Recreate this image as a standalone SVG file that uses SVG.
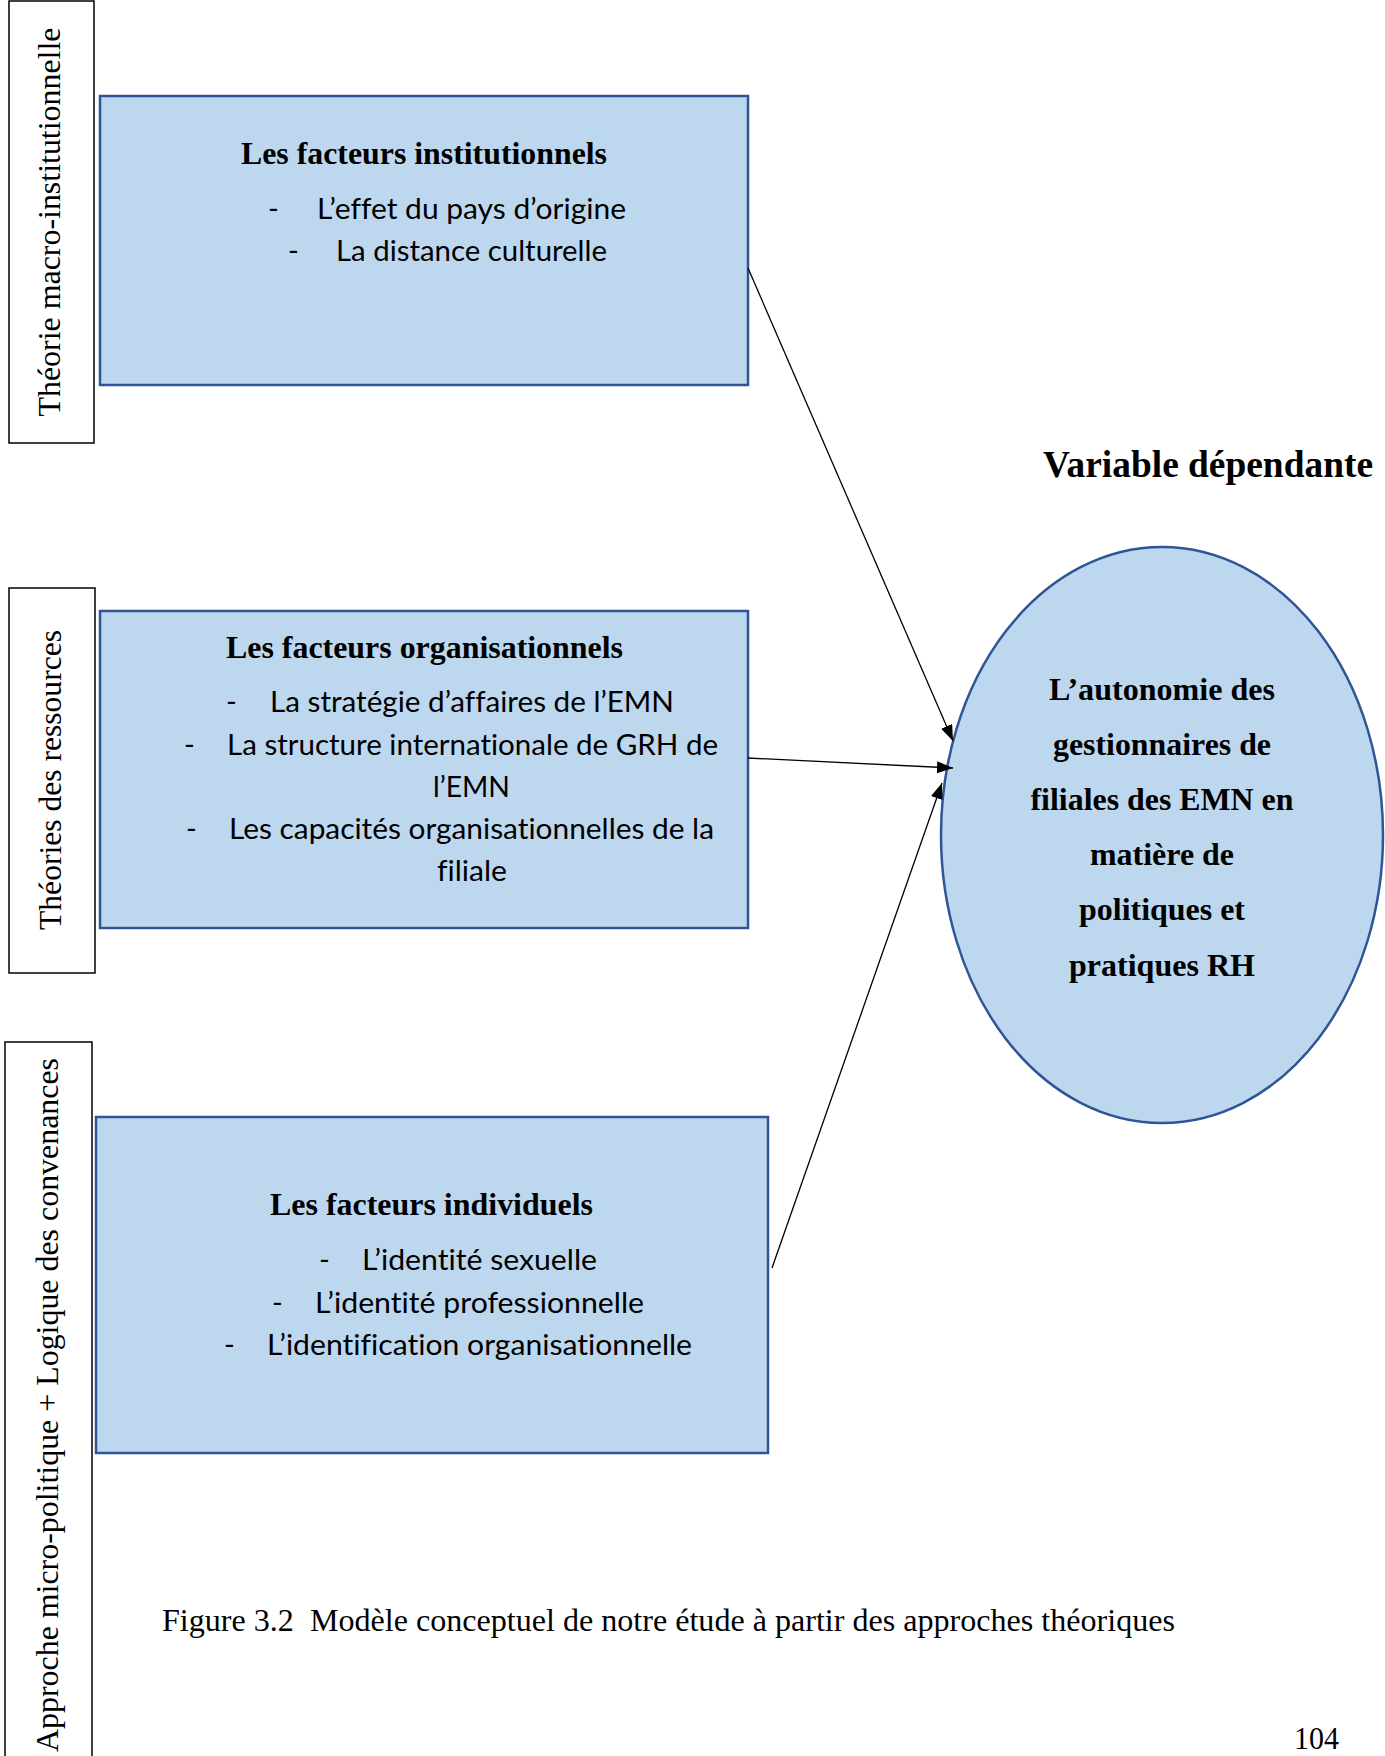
<svg xmlns="http://www.w3.org/2000/svg" width="1385" height="1756" viewBox="0 0 1385 1756">
  <defs>
    <marker id="head" markerUnits="userSpaceOnUse" markerWidth="17" markerHeight="13" refX="16" refY="6" orient="auto">
      <path d="M0,0 L16,6 L0,12 z" fill="#000"/>
    </marker>
  </defs>
  <style>
    .page { fill: #ffffff; }
    .frame { fill: none; stroke: #000; stroke-width: 1.5; }
    .box { fill: #BDD7EE; stroke: #2F5597; stroke-width: 2.5; }
    text { font-variant-ligatures: none; }
    .title { font-family: "Liberation Serif", "Times New Roman", serif; font-weight: bold; font-size: 32px; fill: #000; }
    .item { font-family: Lato, "Liberation Sans", sans-serif; font-size: 29px; fill: #000; }
    .side { font-family: "Liberation Serif", "Times New Roman", serif; font-size: 31px; fill: #000; }
    .dep { font-family: "Liberation Serif", "Times New Roman", serif; font-weight: bold; font-size: 31px; fill: #000; }
    .caption { font-family: "Liberation Serif", "Times New Roman", serif; font-size: 31px; fill: #000; white-space: pre; }
    .link { fill: none; stroke: #000; stroke-width: 1.3; marker-end: url(#head); }
  </style>

  <rect class="page" x="0" y="0" width="1385" height="1756"/>

  <!-- theory frames with vertical labels -->
  <g id="theorie-macro">
    <rect class="frame" x="9" y="1" width="85" height="442"/>
    <text class="side" transform="translate(60,222) rotate(-90)" text-anchor="middle" textLength="389" lengthAdjust="spacingAndGlyphs">Théorie macro-institutionnelle</text>
  </g>
  <g id="theories-ressources">
    <rect class="frame" x="9" y="588" width="86" height="385"/>
    <text class="side" transform="translate(61,780) rotate(-90)" text-anchor="middle" textLength="300" lengthAdjust="spacingAndGlyphs">Théories des ressources</text>
  </g>
  <g id="approche-micro">
    <rect class="frame" x="5" y="1042" width="87" height="730"/>
    <text class="side" transform="translate(58,1405) rotate(-90)" text-anchor="middle" textLength="694" lengthAdjust="spacingAndGlyphs">Approche micro-politique + Logique des convenances</text>
  </g>

  <!-- factor boxes -->
  <g id="facteurs-institutionnels">
    <rect class="box" x="100" y="96" width="648" height="289"/>
    <text class="title" x="241" y="164" textLength="366" lengthAdjust="spacingAndGlyphs">Les facteurs institutionnels</text>
    <text class="item" x="268" y="219">-</text>
    <text class="item" x="317" y="219" textLength="309" lengthAdjust="spacingAndGlyphs">L’effet du pays d’origine</text>
    <text class="item" x="288" y="261">-</text>
    <text class="item" x="336" y="261" textLength="271" lengthAdjust="spacingAndGlyphs">La distance culturelle</text>
  </g>

  <g id="facteurs-organisationnels">
    <rect class="box" x="100" y="611" width="648" height="317"/>
    <text class="title" x="226" y="658" textLength="397" lengthAdjust="spacingAndGlyphs">Les facteurs organisationnels</text>
    <text class="item" x="226" y="712">-</text>
    <text class="item" x="270" y="712" textLength="404" lengthAdjust="spacingAndGlyphs">La stratégie d’affaires de l’EMN</text>
    <text class="item" x="184" y="755">-</text>
    <text class="item" x="227" y="755" textLength="491" lengthAdjust="spacingAndGlyphs">La structure internationale de GRH de</text>
    <text class="item" x="433" y="797" textLength="77" lengthAdjust="spacingAndGlyphs">l’EMN</text>
    <text class="item" x="186" y="839">-</text>
    <text class="item" x="229" y="839" textLength="485" lengthAdjust="spacingAndGlyphs">Les capacités organisationnelles de la</text>
    <text class="item" x="437" y="881" textLength="70" lengthAdjust="spacingAndGlyphs">filiale</text>
  </g>

  <g id="facteurs-individuels">
    <rect class="box" x="96" y="1117" width="672" height="336"/>
    <text class="title" x="270" y="1215" textLength="323" lengthAdjust="spacingAndGlyphs">Les facteurs individuels</text>
    <text class="item" x="319" y="1270">-</text>
    <text class="item" x="362" y="1270" textLength="235" lengthAdjust="spacingAndGlyphs">L’identité sexuelle</text>
    <text class="item" x="272" y="1313">-</text>
    <text class="item" x="315" y="1313" textLength="329" lengthAdjust="spacingAndGlyphs">L’identité professionnelle</text>
    <text class="item" x="224" y="1355">-</text>
    <text class="item" x="267" y="1355" textLength="425" lengthAdjust="spacingAndGlyphs">L’identification organisationnelle</text>
  </g>

  <!-- dependent variable -->
  <g id="variable-dependante">
    <text class="title" x="1043" y="477" style="font-size:37px" textLength="330" lengthAdjust="spacingAndGlyphs">Variable dépendante</text>
    <ellipse class="box" cx="1162" cy="835" rx="221" ry="288"/>
    <g class="dep" text-anchor="middle">
      <text x="1162" y="700" textLength="226" lengthAdjust="spacingAndGlyphs">L’autonomie des</text>
      <text x="1162" y="755" textLength="218" lengthAdjust="spacingAndGlyphs">gestionnaires de</text>
      <text x="1162" y="810" textLength="263" lengthAdjust="spacingAndGlyphs">filiales des EMN en</text>
      <text x="1162" y="865" textLength="144" lengthAdjust="spacingAndGlyphs">matière de</text>
      <text x="1162" y="920" textLength="166" lengthAdjust="spacingAndGlyphs">politiques et</text>
      <text x="1162" y="976" textLength="186" lengthAdjust="spacingAndGlyphs">pratiques RH</text>
    </g>
  </g>

  <!-- connectors -->
  <g id="connectors">
    <line class="link" x1="748" y1="268" x2="953" y2="741"/>
    <line class="link" x1="748" y1="758" x2="953" y2="768"/>
    <line class="link" x1="772" y1="1268" x2="942" y2="783"/>
  </g>

  <!-- caption and page number -->
  <text class="caption" x="162" y="1631" textLength="1013" lengthAdjust="spacingAndGlyphs" xml:space="preserve">Figure 3.2  Modèle conceptuel de notre étude à partir des approches théoriques</text>
  <text class="caption" x="1294" y="1749" textLength="45" lengthAdjust="spacingAndGlyphs">104</text>
</svg>
